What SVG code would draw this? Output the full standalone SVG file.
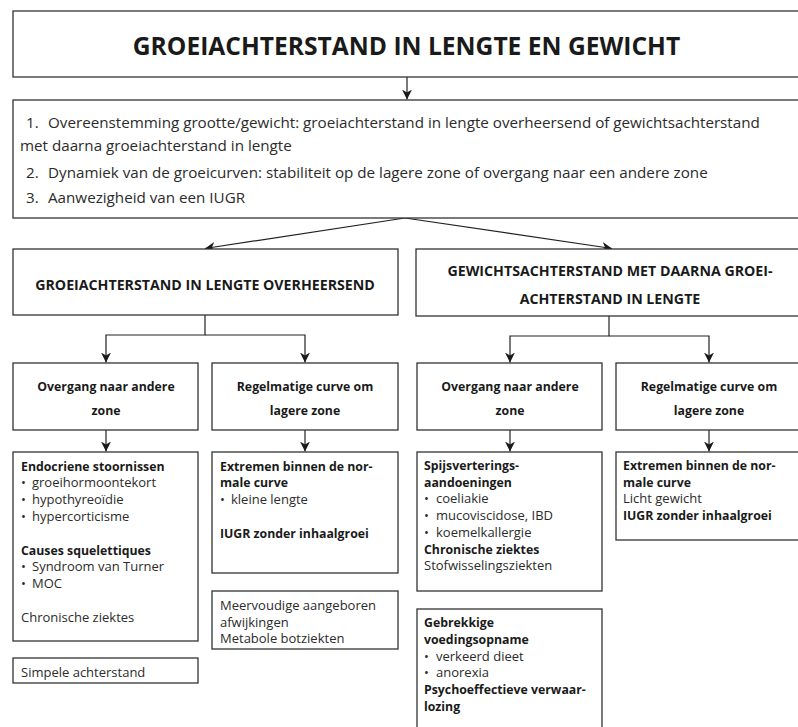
<svg xmlns="http://www.w3.org/2000/svg" width="798" height="727" viewBox="0 0 798 727">
<defs>
<marker id="ah" markerUnits="userSpaceOnUse" markerWidth="10" markerHeight="10" refX="10" refY="5" orient="auto">
<path d="M0,0 L10,5 L0,10 L3,5 z" fill="#1a1a1a"/>
</marker>
<style>
.box{fill:#fff;stroke:#333;stroke-width:1.3}
.conn{fill:none;stroke:#222;stroke-width:1.2;marker-end:url(#ah)}
text{font-family:"Open Sans","Noto Sans",sans-serif;fill:#2b2b2b}
.t{font-size:24.6px;font-weight:700;fill:#1a1a1a;text-anchor:middle}
.li{font-size:15.2px}
.h{font-size:14.2px;font-weight:700;fill:#1a1a1a;text-anchor:middle}
.s{font-size:12.3px;font-weight:700;fill:#1a1a1a;text-anchor:middle}
.r{font-size:13px}
.b{font-size:12.3px;font-weight:700;fill:#1a1a1a}
</style>
</defs>
<g id="connectors">
<line class="conn" x1="407" y1="77" x2="407" y2="99.5"/>
<line class="conn" x1="405" y1="218" x2="205" y2="248.5"/>
<line class="conn" x1="405" y1="218" x2="612" y2="248.5"/>
<path class="conn" d="M205,315 V335 H106 V362.5"/>
<path class="conn" d="M205,335 H305 V362.5"/>
<path class="conn" d="M609,316 V336 H510 V362.5"/>
<path class="conn" d="M609,336 H709 V362.5"/>
<path class="conn" d="M106,430 V451.5"/>
<path class="conn" d="M305,430 V451.5"/>
<path class="conn" d="M510,430 V451.5"/>
<path class="conn" d="M709,430 V451.5"/>
</g>
<g id="title">
<rect class="box" x="13" y="11" width="800" height="66"/>
<text class="t" x="406.5" y="55">GROEIACHTERSTAND IN LENGTE EN GEWICHT</text>
</g>
<g id="criteria">
<rect class="box" x="13" y="100" width="800" height="118"/>
<text class="li" x="26" y="128">1.</text>
<text class="li" x="48" y="128">Overeenstemming grootte/gewicht: groeiachterstand in lengte overheersend of gewichtsachterstand</text>
<text class="li" x="20" y="151">met daarna groeiachterstand in lengte</text>
<text class="li" x="26" y="178">2.</text>
<text class="li" x="48" y="178">Dynamiek van de groeicurven: stabiliteit op de lagere zone of overgang naar een andere zone</text>
<text class="li" x="26" y="203">3.</text>
<text class="li" x="48" y="203">Aanwezigheid van een IUGR</text>
</g>
<g id="branch-lengte">
<rect class="box" x="13" y="249" width="385" height="66"/>
<text class="h" x="205" y="290">GROEIACHTERSTAND IN LENGTE OVERHEERSEND</text>
</g>
<g id="branch-gewicht">
<rect class="box" x="416" y="249" width="400" height="67"/>
<text class="h" x="610" y="276">GEWICHTSACHTERSTAND MET DAARNA GROEI-</text>
<text class="h" x="610" y="304">ACHTERSTAND IN LENGTE</text>
</g>
<g id="l-overgang">
<rect class="box" x="13" y="363" width="185" height="67"/>
<text class="s" x="106" y="391">Overgang naar andere</text>
<text class="s" x="106" y="415">zone</text>
</g>
<g id="l-regelmatig">
<rect class="box" x="212" y="363" width="186" height="67"/>
<text class="s" x="305" y="391">Regelmatige curve om</text>
<text class="s" x="305" y="415">lagere zone</text>
</g>
<g id="r-overgang">
<rect class="box" x="417" y="363" width="185" height="67"/>
<text class="s" x="510" y="391">Overgang naar andere</text>
<text class="s" x="510" y="415">zone</text>
</g>
<g id="r-regelmatig">
<rect class="box" x="616" y="363" width="200" height="67"/>
<text class="s" x="709" y="391">Regelmatige curve om</text>
<text class="s" x="709" y="415">lagere zone</text>
</g>
<g id="endocrien">
<rect class="box" x="13" y="452" width="185" height="189"/>
<text class="b" x="21" y="470.5">Endocriene stoornissen</text>
<text class="r" x="21" y="487.3">•</text><text class="r" x="32" y="487.3">groeihormoontekort</text>
<text class="r" x="21" y="504.1">•</text><text class="r" x="32" y="504.1">hypothyreoïdie</text>
<text class="r" x="21" y="520.9">•</text><text class="r" x="32" y="520.9">hypercorticisme</text>
<text class="b" x="21" y="554.5">Causes squelettiques</text>
<text class="r" x="21" y="571.3">•</text><text class="r" x="32" y="571.3">Syndroom van Turner</text>
<text class="r" x="21" y="588.1">•</text><text class="r" x="32" y="588.1">MOC</text>
<text class="r" x="21" y="621.7">Chronische ziektes</text>
</g>
<g id="simpel">
<rect class="box" x="13" y="658" width="185" height="25"/>
<text class="r" x="21" y="676.5">Simpele achterstand</text>
</g>
<g id="l-extremen">
<rect class="box" x="212" y="452" width="186" height="121"/>
<text class="b" x="220" y="470.5">Extremen binnen de nor-</text>
<text class="b" x="220" y="487.3">male curve</text>
<text class="r" x="220" y="504.1">•</text><text class="r" x="231" y="504.1">kleine lengte</text>
<text class="b" x="220" y="537.5">IUGR zonder inhaalgroei</text>
</g>
<g id="meervoudig">
<rect class="box" x="212" y="591" width="186" height="58"/>
<text class="r" x="220" y="610">Meervoudige aangeboren</text>
<text class="r" x="220" y="626.5">afwijkingen</text>
<text class="r" x="220" y="643">Metabole botziekten</text>
</g>
<g id="spijsvertering">
<rect class="box" x="417" y="452" width="185" height="139"/>
<text class="b" x="424" y="470">Spijsverterings-</text>
<text class="b" x="424" y="486.7">aandoeningen</text>
<text class="r" x="424" y="503.4">•</text><text class="r" x="436" y="503.4">coeliakie</text>
<text class="r" x="424" y="520.1">•</text><text class="r" x="436" y="520.1">mucoviscidose, IBD</text>
<text class="r" x="424" y="536.8">•</text><text class="r" x="436" y="536.8">koemelkallergie</text>
<text class="b" x="424" y="553.5">Chronische ziektes</text>
<text class="r" x="424" y="570.2">Stofwisselingsziekten</text>
</g>
<g id="voeding">
<rect class="box" x="417" y="609" width="185" height="130"/>
<text class="b" x="424" y="627">Gebrekkige</text>
<text class="b" x="424" y="643.8">voedingsopname</text>
<text class="r" x="424" y="660.6">•</text><text class="r" x="436" y="660.6">verkeerd dieet</text>
<text class="r" x="424" y="677.4">•</text><text class="r" x="436" y="677.4">anorexia</text>
<text class="b" x="424" y="694.2">Psychoeffectieve verwaar-</text>
<text class="b" x="424" y="711">lozing</text>
</g>
<g id="r-extremen">
<rect class="box" x="616" y="452" width="200" height="88"/>
<text class="b" x="623" y="470">Extremen binnen de nor-</text>
<text class="b" x="623" y="486.7">male curve</text>
<text class="r" x="623" y="503.4">Licht gewicht</text>
<text class="b" x="623" y="520.1">IUGR zonder inhaalgroei</text>
</g>
</svg>
